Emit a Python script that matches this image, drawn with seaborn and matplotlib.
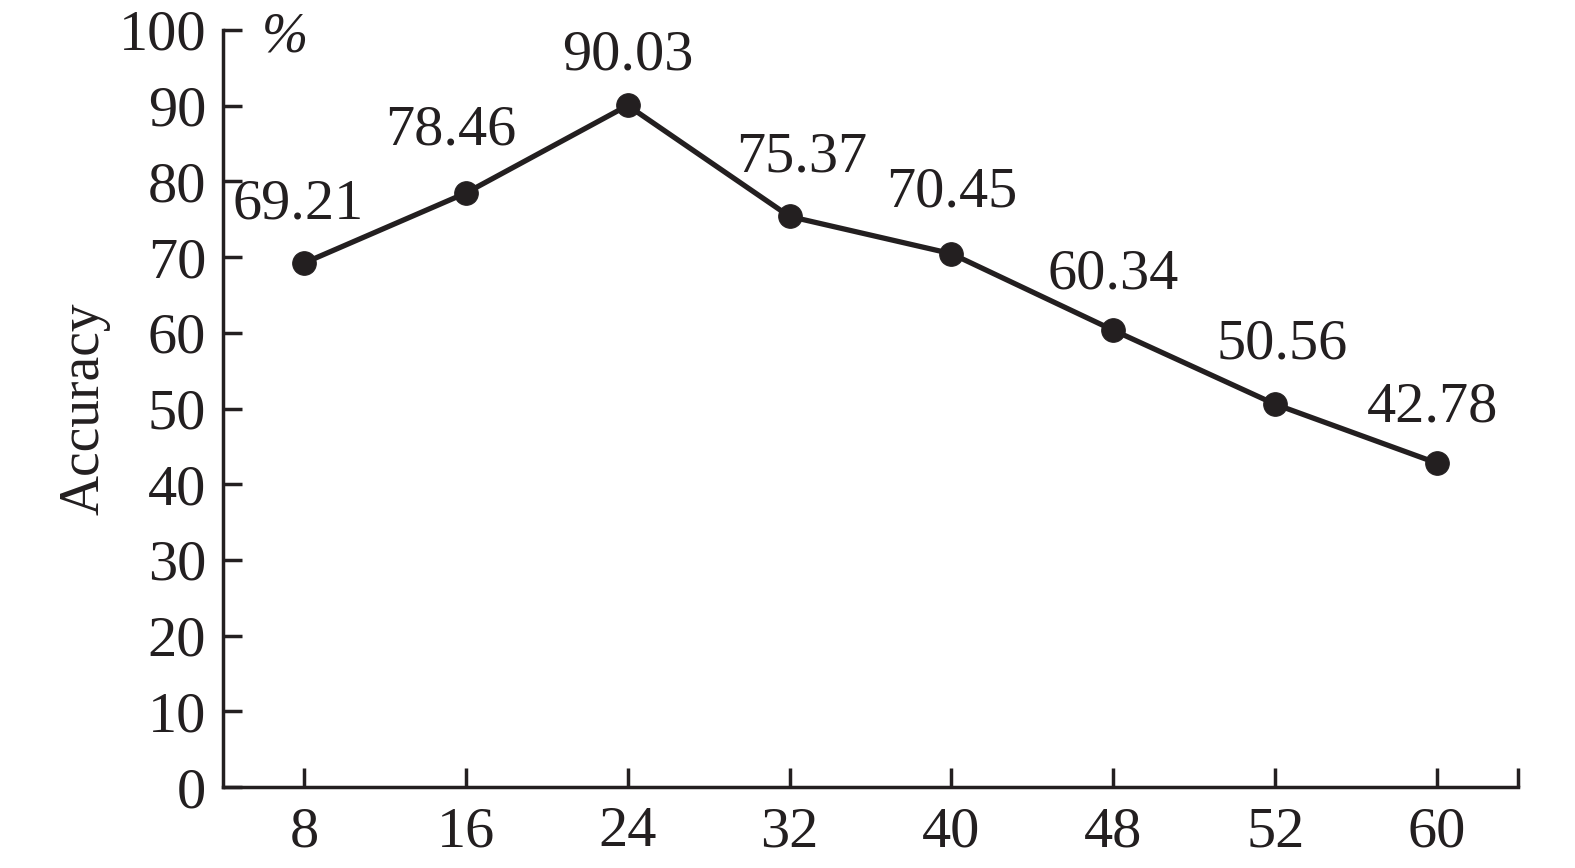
import matplotlib
matplotlib.use("Agg")
import matplotlib.pyplot as plt
import seaborn as sns
import pandas as pd
import numpy as np

categories = ["8", "16", "24", "32", "40", "48", "52", "60"]
accuracy = [69.21, 78.46, 90.03, 75.37, 70.45, 60.34, 50.56, 42.78]
y_ticks = [0, 10, 20, 30, 40, 50, 60, 70, 80, 90, 100]

sns.set_style("ticks")
plt.rcParams['font.family'] = ['Liberation Serif', 'DejaVu Serif']

df = pd.DataFrame({"pos": np.arange(len(categories)), "acc": accuracy})

fig = plt.figure(figsize=(15.75, 8.68), dpi=100)
ax = fig.add_axes([223/1575, 1 - 787/868, (1518-223)/1575, (787-30)/868])

col = "#231f20"
sns.lineplot(data=df, x="pos", y="acc", ax=ax, color=col, linewidth=3.8,
             marker="o", markersize=17, markeredgecolor=col, markerfacecolor=col)

ax.set_xlim(-0.5, len(categories) - 0.5)
ax.set_ylim(0, 100)
ax.set_xticks(list(range(len(categories))) + [len(categories) - 0.5])
ax.set_xticklabels(categories + [""])
ax.set_yticks(y_ticks)
ax.set_yticklabels([str(v) for v in y_ticks])

for s in ["top", "right"]:
    ax.spines[s].set_visible(False)
for s in ["left", "bottom"]:
    ax.spines[s].set_linewidth(2.5)
    ax.spines[s].set_color(col)

ax.tick_params(axis="both", direction="in", length=14, width=2.5, colors=col,
               labelsize=42, labelcolor=col)
ax.tick_params(axis="y", pad=12)
ax.tick_params(axis="x", pad=14)

ax.set_xlabel("")
ax.set_ylabel("Accuracy", fontsize=40, color=col, labelpad=6)

dx = [-6, -15, 0, 12, 0, 0, 7, -5]
dy = [59, 63, 50, 59, 61, 56, 60, 56]
for i, v in enumerate(accuracy):
    ax.annotate(f"{v:.2f}", (i, v), xytext=(dx[i] * 0.72, dy[i] * 0.72), textcoords="offset points",
                ha="center", va="center", fontsize=42, color=col)

ax.text(0.03, 0.99, "%", transform=ax.transAxes, fontsize=40, style="italic",
        ha="left", va="center", color=col)

fig.savefig("out.png", dpi=100)
